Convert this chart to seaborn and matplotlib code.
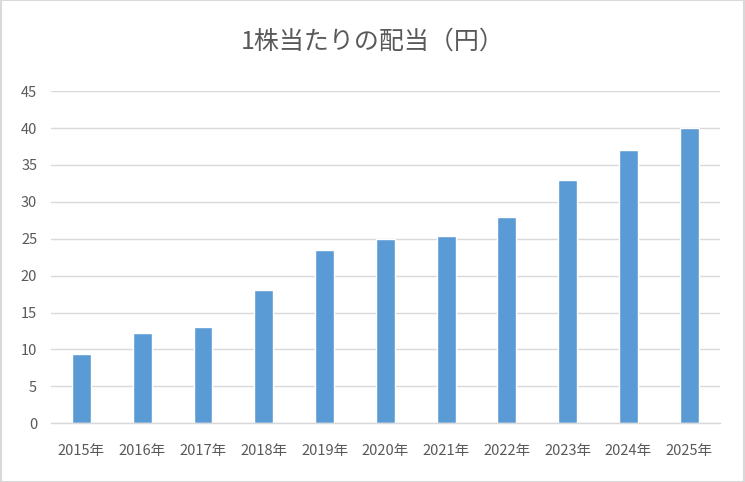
import matplotlib.pyplot as plt
import seaborn as sns
import pandas as pd
from matplotlib.patches import Rectangle

# Data
years = ["2015年", "2016年", "2017年", "2018年", "2019年", "2020年",
         "2021年", "2022年", "2023年", "2024年", "2025年"]
dividends = [9.4, 12.2, 13, 18, 23.5, 25, 25.4, 28, 33, 37, 40]

df = pd.DataFrame({"year": years, "dividend": dividends})

sns.set_theme(style="white")
plt.rcParams['font.family'] = ['Noto Sans CJK JP', 'DejaVu Sans']

fig = plt.figure(figsize=(7.45, 4.82), dpi=100)
ax = fig.add_axes([0.0685, 0.1218, 0.8975, 0.689])

sns.barplot(data=df, x="year", y="dividend", color="#5b9bd5",
            width=0.31, saturation=1, ax=ax)

ax.set_ylim(0, 45)
ax.set_xlim(-0.5, len(years) - 0.5)
ax.set_yticks(range(0, 46, 5))
ax.yaxis.grid(True, color="#d9d9d9", linewidth=1)
ax.set_axisbelow(True)
for side in ["top", "right", "left"]:
    ax.spines[side].set_visible(False)
ax.spines["bottom"].set_color("#d9d9d9")
ax.spines["bottom"].set_linewidth(1)

ax.set_xlabel("")
ax.set_ylabel("")
ax.tick_params(axis="y", length=0, pad=10, labelsize=10.5, labelcolor="#595959")
ax.tick_params(axis="x", length=0, pad=15, labelsize=10.5, labelcolor="#595959")

fig.text(0.5, 0.913, "1株当たりの配当（円）", ha="center", va="center",
         fontsize=18, color="#595959")

# light frame around the chart
fig.patches.append(Rectangle((0.001, 0.001), 0.998, 0.998, transform=fig.transFigure,
                             fill=False, edgecolor="#d9d9d9", linewidth=1.5))

fig.savefig("out.png", dpi=100)
